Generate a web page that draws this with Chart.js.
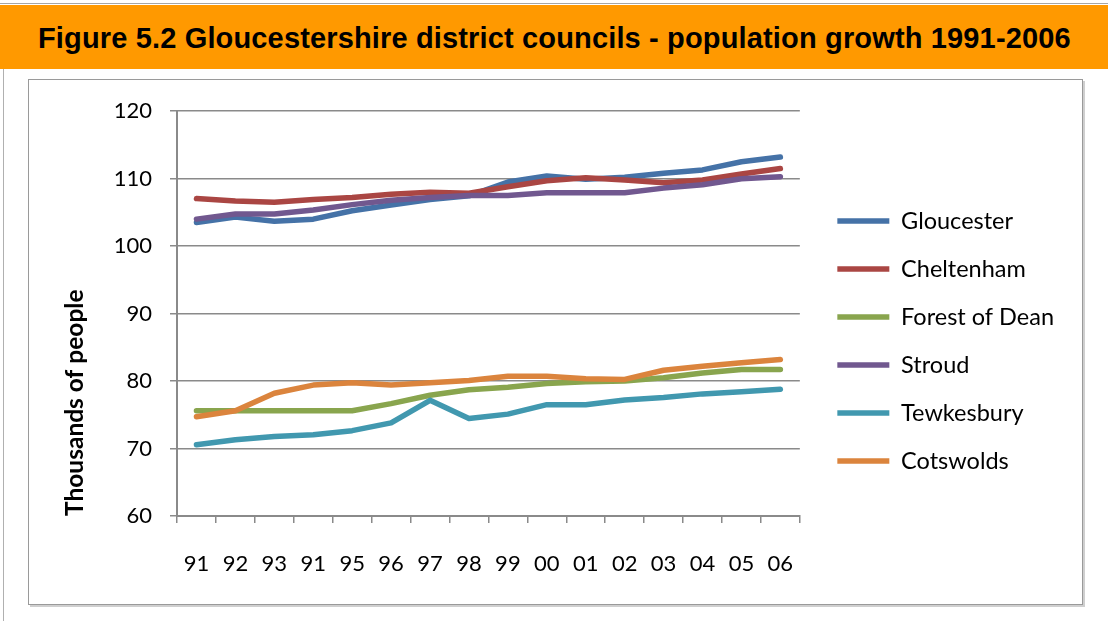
<!DOCTYPE html>
<html lang="en">
<head>
    <meta charset="UTF-8">
    <title>Gloucestershire district councils - population growth</title>
    <script src="https://cdn.jsdelivr.net/npm/chart.js"></script>
    <style>
        body { margin: 0; width: 1108px; height: 621px; background: #fff; position: relative; overflow: hidden; }
        #topline { position: absolute; left: 0; top: 3px; width: 1108px; height: 1px; background: #a6a6a6; }
        #leftline { position: absolute; left: 3px; top: 69px; width: 1px; height: 560px; background: #b0b0b0; }
        #band {
            position: absolute; left: 0; top: 5px; width: 1108px; height: 64px;
            background: #ff9900; color: #000;
            font: bold 29px "Liberation Sans", Arial, sans-serif; letter-spacing: 0.15px;
            line-height: 66px; padding-left: 38px; box-sizing: border-box; white-space: nowrap;
        }
        #frame {
            position: absolute; left: 28px; top: 79px; width: 1053px; height: 524px;
            border: 1px solid #9a9a9a; box-shadow: 2px 2px 0 #cfcfcf;
        }
        #frame canvas { position: absolute; left: 0; top: 0; }
    </style>
</head>
<body>
<div id="topline"></div>
<div id="leftline"></div>
<div id="band">Figure 5.2 Gloucestershire district councils - population growth 1991-2006</div>
<div id="frame"><canvas id="myChart" width="1053" height="524"></canvas></div>

<script>
    const years = ['91', '92', '93', '91', '95', '96', '97', '98', '99', '00', '01', '02', '03', '04', '05', '06'];

    const gloucester = [103.5, 104.3, 103.7, 104.0, 105.25, 106.1, 106.9, 107.45, 109.5, 110.4, 109.9, 110.2, 110.8, 111.3, 112.5, 113.2];
    const cheltenham = [107.05, 106.7, 106.5, 106.9, 107.2, 107.7, 108.0, 107.85, 108.8, 109.7, 110.15, 109.8, 109.4, 109.8, 110.7, 111.5];
    const forestOfDean = [75.6, 75.6, 75.6, 75.6, 75.6, 76.65, 77.9, 78.7, 79.1, 79.65, 79.9, 80.0, 80.5, 81.2, 81.7, 81.7];
    const stroud = [104.0, 104.75, 104.75, 105.35, 106.15, 106.8, 107.2, 107.5, 107.5, 107.9, 107.9, 107.9, 108.6, 109.1, 110.0, 110.3];
    const tewkesbury = [70.55, 71.3, 71.8, 72.05, 72.65, 73.8, 77.15, 74.45, 75.1, 76.5, 76.5, 77.2, 77.55, 78.1, 78.4, 78.8];
    const cotswolds = [74.7, 75.6, 78.2, 79.4, 79.75, 79.4, 79.75, 80.1, 80.7, 80.7, 80.35, 80.25, 81.6, 82.2, 82.7, 83.2];

    const yTicks = [60, 70, 80, 90, 100, 110, 120];

    const gridGrey = '#8a8a8a';
    const font = 'Lato';

    // excel draws later series on top, chart.js the reverse -> use "order"
    function series(label, data, colour, order) {
        return {
            label: label,
            data: data,
            borderColor: colour,
            backgroundColor: colour,
            borderWidth: 5.5,
            borderCapStyle: 'round',
            borderJoinStyle: 'round',
            pointRadius: 0,
            pointHoverRadius: 0,
            tension: 0,
            order: order
        };
    }

    // nudge the legend: a bit further from the plot and a bit higher
    const legendNudge = {
        id: 'legendNudge',
        afterLayout(chart) {
            const lg = chart.legend;
            lg.left += 13;
            lg.right += 13;
            lg.top -= 15;
            lg.bottom -= 15;
        }
    };

    const ctx = document.getElementById('myChart').getContext('2d');
    new Chart(ctx, {
        type: 'line',
        data: {
            labels: years,
            datasets: [
                series('Gloucester', gloucester, '#4572a7', 6),
                series('Cheltenham', cheltenham, '#aa4643', 5),
                series('Forest of Dean', forestOfDean, '#89a54e', 4),
                series('Stroud', stroud, '#71588f', 3),
                series('Tewkesbury', tewkesbury, '#4198af', 2),
                series('Cotswolds', cotswolds, '#db843d', 1)
            ]
        },
        options: {
            responsive: false,
            animation: false,
            layout: { padding: { top: 28, right: 31, bottom: 0, left: 0 } },
            plugins: {
                tooltip: { enabled: false },
                legend: {
                    position: 'right',
                    labels: {
                        usePointStyle: true,
                        pointStyle: 'line',
                        pointStyleWidth: 52,
                        padding: 24.5,
                        color: '#000',
                        font: { family: font, size: 23.5 },
                        sort: (a, b) => a.datasetIndex - b.datasetIndex
                    }
                }
            },
            scales: {
                x: {
                    offset: true,
                    grid: { offset: true, drawOnChartArea: false, drawTicks: true, tickLength: 7, color: gridGrey, lineWidth: 1.5 },
                    border: { color: gridGrey, width: 2 },
                    ticks: { color: '#000', font: { family: font, size: 22 }, padding: 28, maxRotation: 0, autoSkip: false },
                    afterFit: s => { s.height = 88; }
                },
                y: {
                    min: 60,
                    max: 120,
                    afterBuildTicks: s => { s.ticks = yTicks.map(v => ({ value: v })); },
                    grid: { color: gridGrey, lineWidth: 1.5, tickLength: 7 },
                    border: { color: gridGrey, width: 2 },
                    ticks: { color: '#000', font: { family: font, size: 22 }, padding: 18 },
                    title: {
                        display: true,
                        text: 'Thousands of people',
                        align: 'start',
                        color: '#000',
                        font: { family: font, size: 24.5, weight: 'bold' },
                        padding: { top: 31, bottom: 0 }
                    },
                    afterFit: s => { s.width = 148; }
                }
            }
        },
        plugins: [legendNudge]
    });
</script>
</body>
</html>
